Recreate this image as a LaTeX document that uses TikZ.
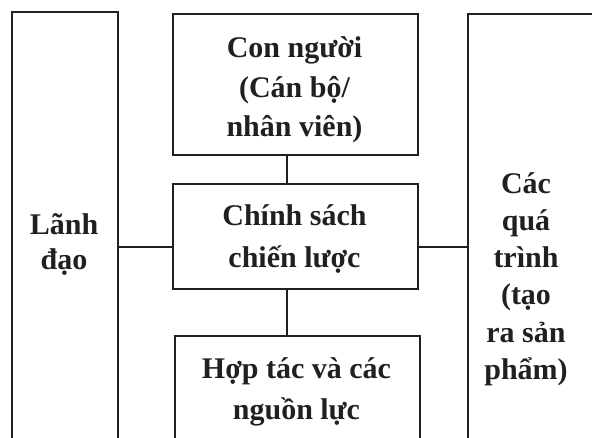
\documentclass[tikz,border=0pt]{standalone}
\usepackage{fontspec}
\setmainfont{Liberation Serif}
\definecolor{ink}{HTML}{231F20}
\begin{document}
\begin{tikzpicture}[x=1pt,y=-1pt,
  frame/.style={draw=ink,line width=2pt,rectangle,inner sep=0pt,anchor=north west},
  label/.style={text=ink,font=\fontsize{30}{#1}\selectfont\bfseries,align=center,inner sep=0pt},
  label/.default=39,
  link/.style={draw=ink,line width=2pt}]
\useasboundingbox (0,0) rectangle (592,437);
\clip (0,0) rectangle (592,437);
% boxes (the outer three run past the lower and right edges)
\node[frame,minimum width=106pt,minimum height=460pt] (lead) at (11,11) {};
\node[frame,minimum width=245pt,minimum height=141pt] (people) at (172,13) {};
\node[frame,minimum width=245pt,minimum height=105pt] (policy) at (172,183) {};
\node[frame,minimum width=245pt,minimum height=140pt] (coop) at (174,335) {};
\node[frame,minimum width=160pt,minimum height=460pt] (proc) at (467,13) {};
% texts
\node[label=35] (tlead) at (64,244) {Lãnh\\đạo};
\node[label=39.5] (tpeople) at (294.5,90) {Con người\\(Cán bộ/\\nhân viên)};
\node[label=42] (tpolicy) at (294.5,239) {Chính sách\\chiến lược};
\node[label=41] (tcoop) at (296.5,392) {Hợp tác và các\\nguồn lực};
\node[label=37.2] (tproc) at (526,279) {Các\\quá\\trình\\(tạo\\ra sản\\phẩm)};
% connectors
\draw[link] (people.south -| 287,0) -- (policy.north -| 287,0);
\draw[link] (policy.south -| 287,0) -- (coop.north -| 287,0);
\draw[link] (lead.east |- 0,247) -- (policy.west |- 0,247);
\draw[link] (policy.east |- 0,247) -- (proc.west |- 0,247);
\end{tikzpicture}
\end{document}
